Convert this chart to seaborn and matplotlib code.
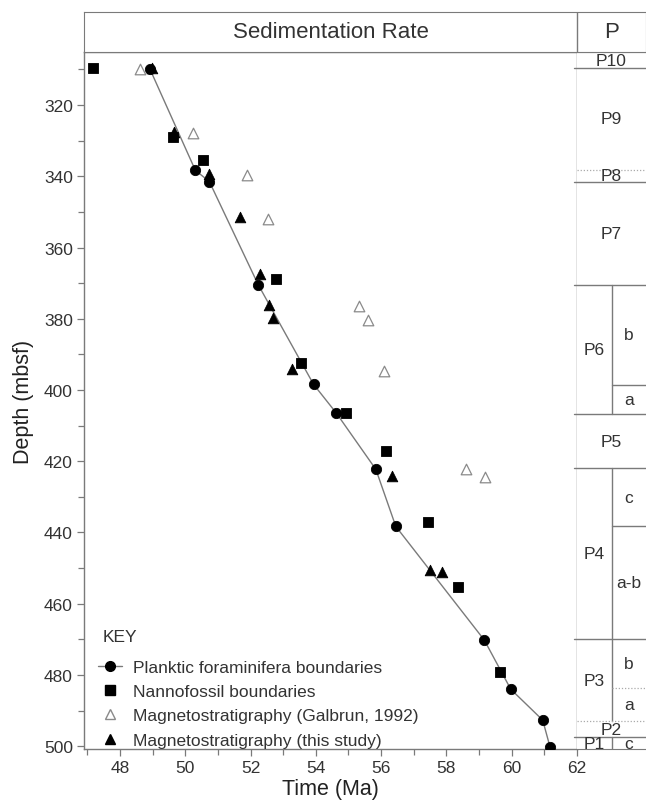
import pandas as pd
import seaborn as sns
import matplotlib.pyplot as plt
from matplotlib.ticker import MultipleLocator
from matplotlib.lines import Line2D

sns.set_style("ticks")
plt.rcParams['font.family'] = ['Liberation Sans', 'DejaVu Sans']

# planktic foraminifera boundaries (joined by the rate line)
pf_age = [48.92, 50.31, 50.74, 52.24, 53.93, 54.63, 55.84, 56.45, 59.16, 59.97, 60.95, 61.17]
pf_depth = [309.9, 338.3, 341.5, 370.5, 398.4, 406.5, 422.3, 438.3, 470.2, 484.0, 492.7, 500.1]

# nannofossil boundaries
nan_age = [47.19, 49.63, 50.53, 52.79, 53.55, 54.94, 56.15, 57.45, 58.36, 59.64]
nan_depth = [309.5, 329.1, 335.4, 368.9, 392.5, 406.5, 417.0, 437.1, 455.4, 479.3]

# magnetostratigraphy (Galbrun, 1992)
gal_age = [48.61, 50.25, 51.88, 52.54, 55.31, 55.61, 56.08, 58.59, 59.19]
gal_depth = [309.8, 327.9, 339.7, 352.0, 376.5, 380.3, 394.6, 422.3, 424.3]

# magnetostratigraphy (this study)
mag_age = [48.98, 49.65, 50.72, 51.68, 52.30, 52.58, 52.70, 53.27, 56.34, 57.51, 57.87]
mag_depth = [309.7, 327.7, 339.4, 351.3, 367.5, 376.2, 379.8, 394.1, 424.1, 450.5, 451.0]

# planktic zones
zone_names = ["P10", "P9", "P8", "P7", "P6", "P5", "P4", "P3", "P2", "P1"]
zone_edges = [305.1, 309.6, 338.2, 341.5, 370.5, 406.8, 421.9, 470.0, 493.0, 497.5, 500.8]
split_zones = ["P6", "P4", "P3", "P1"]
dotted_edges = [338.2, 493.0]
sub_names = ["b", "a", "c", "a-b", "b", "a", "c"]
sub_tops = [370.5, 398.6, 421.9, 438.2, 470.0, 483.7, 497.5]
sub_bottoms = [398.6, 406.8, 438.2, 470.0, 483.7, 493.0, 500.8]
sub_dotted = [483.7]

ylim = (500.8, 305.1)
xlim = (46.9, 62.0)
grey = "#7a7a7a"
txt = "#333333"

W, H = 646, 804
fig = plt.figure(figsize=(W / 100, H / 100), dpi=100)
ax = fig.add_axes([84 / W, 1 - 750 / H, (577 - 84) / W, (750 - 53) / H])
pax = fig.add_axes([577 / W, 1 - 750 / H, (W - 577) / W, (750 - 53) / H])
hax = fig.add_axes([84 / W, 1 - 53 / H, (W - 84) / W, 40 / H])

pf = pd.DataFrame({"age": pf_age, "depth": pf_depth})
sns.lineplot(data=pf, x="age", y="depth", sort=False, color=grey, lw=1, ax=ax, zorder=1)
sns.scatterplot(data=pf, x="age", y="depth", marker="o", s=55, color="black",
                edgecolor="black", ax=ax, zorder=3)
sns.scatterplot(x=nan_age, y=nan_depth, marker="s", s=58, color="black",
                edgecolor="black", ax=ax, zorder=3)
sns.scatterplot(x=gal_age, y=gal_depth, marker="^", s=58, facecolor="white",
                edgecolor="#8a8a8a", linewidth=0.9, ax=ax, zorder=2)
sns.scatterplot(x=mag_age, y=mag_depth, marker="^", s=58, color="black",
                edgecolor="black", ax=ax, zorder=3)

ax.set_xlim(*xlim)
ax.set_ylim(*ylim)
ax.xaxis.set_major_locator(MultipleLocator(2))
ax.xaxis.set_minor_locator(MultipleLocator(1))
ax.yaxis.set_major_locator(MultipleLocator(20))
ax.yaxis.set_minor_locator(MultipleLocator(10))
ax.tick_params(which="major", length=5, width=0.9, color=grey, labelsize=12.5,
               labelcolor=txt, pad=3)
ax.tick_params(which="minor", length=4, width=0.9, color=grey)
ax.set_xlabel("Time (Ma)", fontsize=15.5, color="#222222", labelpad=2)
ax.set_ylabel("Depth (mbsf)", fontsize=15.5, color="#222222", labelpad=7)
for sp in ax.spines.values():
    sp.set_color(grey)
    sp.set_linewidth(1)

handles = [
    Line2D([], [], color=grey, lw=1, marker="o", markersize=7, markerfacecolor="black",
           markeredgecolor="black"),
    Line2D([], [], ls="", marker="s", markersize=7, color="black"),
    Line2D([], [], ls="", marker="^", markersize=7, markerfacecolor="white",
           markeredgecolor="#8a8a8a"),
    Line2D([], [], ls="", marker="^", markersize=7, color="black"),
]
labels = ["Planktic foraminifera boundaries", "Nannofossil boundaries",
          "Magnetostratigraphy (Galbrun, 1992)", "Magnetostratigraphy (this study)"]
leg = ax.legend(handles, labels, loc="lower left", bbox_to_anchor=(0.0, -0.018),
                frameon=False, fontsize=12.5, handlelength=1.4,
                handletextpad=0.6, labelspacing=0.52, borderpad=0.3)
for t in leg.get_texts():
    t.set_color(txt)
fig.text(103 / W, 1 - 638 / H, "KEY", ha="left", va="center", fontsize=12.5, color=txt)

# zone column
pax.set_xlim(0, 1)
pax.set_ylim(*ylim)
pax.set_xticks([])
pax.set_yticks([])
pax.spines["left"].set_visible(False)
pax.spines["right"].set_visible(False)
for s in ("top", "bottom"):
    pax.spines[s].set_color(grey)
div = (612 - 577) / (W - 577)
for i, name in enumerate(zone_names):
    top, bot = zone_edges[i], zone_edges[i + 1]
    if name in split_zones:
        pax.plot([div, div], [top, bot], color=grey, lw=1)
        xc = div / 2
    else:
        xc = 0.5
    pax.text(xc, (top + bot) / 2, name, ha="center", va="center", fontsize=12.5, color=txt)
for e in zone_edges[1:-1]:
    if e in dotted_edges:
        pax.plot([0, 1], [e, e], color="#aaaaaa", lw=0.9, ls=(0, (1, 1.5)))
    else:
        pax.plot([-0.04, 1], [e, e], color=grey, lw=1, clip_on=False)
for n, t0, t1 in zip(sub_names, sub_tops, sub_bottoms):
    pax.text((div + 1) / 2, (t0 + t1) / 2, n, ha="center", va="center", fontsize=12.5, color=txt)
    if t0 in zone_edges:
        continue
    if t0 in sub_dotted:
        pax.plot([div, 1], [t0, t0], color="#aaaaaa", lw=0.9, ls=(0, (1, 1.5)))
    else:
        pax.plot([div, 1], [t0, t0], color=grey, lw=1)

# header box
hax.set_xlim(0, 1)
hax.set_ylim(0, 1)
hax.set_xticks([])
hax.set_yticks([])
for sp in hax.spines.values():
    sp.set_color(grey)
hdiv = (577 - 84) / (W - 84)
hax.plot([hdiv, hdiv], [0, 1], color=grey, lw=1)
hax.text(hdiv / 2, 0.5, "Sedimentation Rate", ha="center", va="center", fontsize=16, color=txt)
hax.text((hdiv + 1) / 2, 0.5, "P", ha="center", va="center", fontsize=16, color=txt)

fig.savefig("out.png", dpi=100)
